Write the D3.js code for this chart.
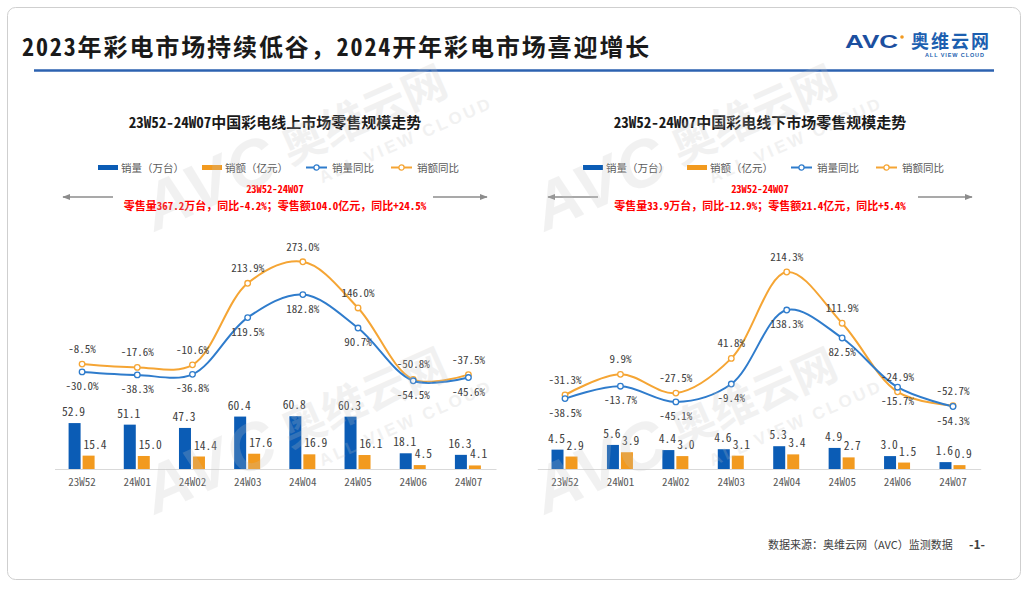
<!DOCTYPE html>
<html>
<head>
<meta charset="utf-8">
<script src="https://cdn.jsdelivr.net/npm/d3@7"></script>
<style>
  html, body { margin: 0; padding: 0; background: #ffffff; }
  svg { display: block; font-family: "Noto Sans CJK SC", "Noto Sans", sans-serif; }
  .hw { font-feature-settings: "hwid"; }
</style>
</head>
<body>
<svg id="chart" width="1027" height="593"></svg>
<script>
// ---------------- data ----------------
const categories = ["23W52", "24W01", "24W02", "24W03", "24W04", "24W05", "24W06", "24W07"];

const onlineVolume    = [52.9, 51.1, 47.3, 60.4, 60.8, 60.3, 18.1, 16.3];
const onlineAmount    = [15.4, 15.0, 14.4, 17.6, 16.9, 16.1, 4.5, 4.1];
const onlineVolumeYoY = [-30.0, -38.3, -36.8, 119.5, 182.8, 90.7, -54.5, -45.6];
const onlineAmountYoY = [-8.5, -17.6, -10.6, 213.9, 273.0, 146.0, -50.8, -37.5];

const offlineVolume    = [4.5, 5.6, 4.4, 4.6, 5.3, 4.9, 3.0, 1.6];
const offlineAmount    = [2.9, 3.9, 3.0, 3.1, 3.4, 2.7, 1.5, 0.9];
const offlineVolumeYoY = [-38.5, -13.7, -45.1, -9.4, 138.3, 82.5, -15.7, -54.3];
const offlineAmountYoY = [-31.3, 9.9, -27.5, 41.8, 214.3, 111.9, -24.9, -52.7];

const legendLabels = ["销量（万台）", "销额（亿元）", "销量同比", "销额同比"];
const mainTitle = "2023年彩电市场持续低谷，2024开年彩电市场喜迎增长";
const onlineTitle = "23W52-24W07中国彩电线上市场零售规模走势";
const offlineTitle = "23W52-24W07中国彩电线下市场零售规模走势";
const periodText = "23W52-24W07";
const onlineSummary = "零售量367.2万台，同比-4.2%；零售额104.0亿元，同比+24.5%";
const offlineSummary = "零售量33.9万台，同比-12.9%；零售额21.4亿元，同比+5.4%";
const sourceText = "数据来源：奥维云网（AVC）监测数据";
const pageText = "-1-";

// ---------------- styles ----------------
const C = {
  barBlue: "#0b5cb5",
  barOrange: "#f29a1f",
  lineBlue: "#2f7ccc",
  lineOrange: "#f5a534",
  red: "#ff0000",
  text: "#404040",
  axisText: "#595959",
  axis: "#d9d9d9",
  arrow: "#8c8c8c"
};

// mixed text: ASCII runs get half-width glyphs, CJK runs stay full width
function richText(sel, str) {
  str.split(/([\x20-\x7E]+)/).filter(s => s.length).forEach(part => {
    const t = sel.append("tspan").text(part);
    if (/^[\x20-\x7E]+$/.test(part)) t.attr("class", "hw");
  });
  return sel;
}

const svg = d3.select("#chart");
const defs = svg.append("defs");
defs.append("marker").attr("id", "arrowHead")
  .attr("viewBox", "0 0 10 10").attr("refX", 9).attr("refY", 5)
  .attr("markerWidth", 6).attr("markerHeight", 6).attr("orient", "auto-start-reverse")
  .append("path").attr("d", "M0,1 L10,5 L0,9 z").attr("fill", C.arrow);

// card
svg.append("rect").attr("x", 7.5).attr("y", 7.5).attr("width", 1013).attr("height", 572)
  .attr("rx", 8).attr("fill", "#fff").attr("stroke", "#cfcfcf").attr("stroke-width", 1);

// main title
richText(svg.append("text").attr("x", 22).attr("y", 56)
  .attr("font-size", 24).attr("font-weight", "bold").attr("fill", "#1a1a1a")
  .attr("letter-spacing", 1.9), mainTitle);

// header rule
svg.append("line").attr("x1", 34).attr("x2", 994).attr("y1", 70.5).attr("y2", 70.5)
  .attr("stroke", "#2c62b0").attr("stroke-width", 2.5);

// logo
const logo = svg.append("g");
logo.append("text").attr("transform", "translate(845,48) scale(1.45,1)")
  .attr("font-family", "Liberation Sans, Arial, sans-serif").attr("font-weight", "bold")
  .attr("font-size", 18).attr("fill", "#1c4f9f").text("AVC");
logo.append("circle").attr("cx", 902).attr("cy", 37).attr("r", 1.8).attr("fill", "#f29a1f");
logo.append("text").attr("x", 911).attr("y", 48).attr("font-size", 18).attr("font-weight", "bold")
  .attr("fill", "#1c5fb0").attr("letter-spacing", 2).text("奥维云网");
logo.append("text").attr("x", 925).attr("y", 56.5).attr("font-size", 5.5).attr("font-weight", "bold")
  .attr("fill", "#1c5fb0").attr("letter-spacing", 0.9).attr("font-family", "Liberation Sans, Arial, sans-serif")
  .text("ALL VIEW CLOUD");

// ---------------- chart builder ----------------
function drawChart(cfg) {
  const g = svg.append("g");
  const cx = cfg.cx;

  richText(g.append("text").attr("x", cx).attr("y", 128).attr("text-anchor", "middle")
    .attr("font-size", 15).attr("font-weight", "bold").attr("fill", "#1a1a1a"), cfg.title);

  // legend
  const lg = g.append("g").attr("transform", `translate(${cx - 177},167.5)`);
  const offs = [0, 104, 208, 293];
  const kinds = [
    { type: "bar", color: C.barBlue },
    { type: "bar", color: C.barOrange },
    { type: "line", color: C.lineBlue },
    { type: "line", color: C.lineOrange }
  ];
  kinds.forEach((k, i) => {
    const it = lg.append("g").attr("transform", `translate(${offs[i]},0)`);
    if (k.type === "bar") {
      it.append("rect").attr("x", 0).attr("y", -2.5).attr("width", 20).attr("height", 5).attr("fill", k.color);
      it.append("text").attr("x", 23).attr("y", 4).attr("font-size", 10.5).attr("fill", C.axisText).text(legendLabels[i]);
    } else {
      it.append("line").attr("x1", 0).attr("x2", 21).attr("y1", 0).attr("y2", 0).attr("stroke", k.color).attr("stroke-width", 2);
      it.append("circle").attr("cx", 10.5).attr("cy", 0).attr("r", 2.6).attr("fill", "#fff").attr("stroke", k.color).attr("stroke-width", 1.3);
      it.append("text").attr("x", 26).attr("y", 4).attr("font-size", 10.5).attr("fill", C.axisText).text(legendLabels[i]);
    }
  });

  // red annotation
  g.append("text").attr("x", cx).attr("y", 193).attr("text-anchor", "middle")
    .attr("font-size", 10.5).attr("font-weight", "bold").attr("fill", C.red).attr("class", "hw").text(periodText);
  richText(g.append("text").attr("x", cx).attr("y", 210).attr("text-anchor", "middle")
    .attr("font-size", 11).attr("font-weight", "bold").attr("fill", C.red), cfg.summary);

  // arrows
  g.append("line").attr("x1", cx - 162).attr("x2", cx - 212).attr("y1", 197).attr("y2", 197)
    .attr("stroke", C.arrow).attr("stroke-width", 1.3).attr("marker-end", "url(#arrowHead)");
  g.append("line").attr("x1", cx + 158).attr("x2", cx + 212).attr("y1", 197).attr("y2", 197)
    .attr("stroke", C.arrow).attr("stroke-width", 1.3).attr("marker-end", "url(#arrowHead)");

  // scales
  const x = d3.scaleBand().domain(categories).range(cfg.xRange).padding(0);
  const xs = d3.scaleBand().domain(["vol", "amt"]).range([-13.5, 12.5]).paddingInner(2 / 14);
  const yBar = d3.scaleLinear().domain(cfg.barDomain).range(cfg.barRange);
  const yLine = d3.scaleLinear().domain(cfg.lineDomain).range(cfg.lineRange);
  const xc = d => x(d) + x.bandwidth() / 2;

  // axis
  const axis = d3.axisBottom(x).tickSize(0).tickPadding(9);
  const ax = g.append("g").attr("transform", `translate(0,${yBar(0)})`).call(axis);
  ax.select(".domain").attr("stroke", C.axis).attr("stroke-width", 1);
  ax.selectAll("text").attr("font-size", 11).attr("fill", C.axisText)
    .attr("font-family", "Noto Sans CJK SC, sans-serif").attr("class", "hw");

  const rows = categories.map((c, i) => ({
    c, vol: cfg.vol[i], amt: cfg.amt[i], volY: cfg.volYoY[i], amtY: cfg.amtYoY[i]
  }));

  // bars
  g.selectAll(".bv").data(rows).enter().append("rect")
    .attr("x", d => xc(d.c) + xs("vol")).attr("width", xs.bandwidth())
    .attr("y", d => yBar(d.vol)).attr("height", d => yBar(0) - yBar(d.vol)).attr("fill", C.barBlue);
  g.selectAll(".ba").data(rows).enter().append("rect")
    .attr("x", d => xc(d.c) + xs("amt")).attr("width", xs.bandwidth())
    .attr("y", d => yBar(d.amt)).attr("height", d => yBar(0) - yBar(d.amt)).attr("fill", C.barOrange);

  // bar labels
  g.selectAll(".lv").data(rows).enter().append("text").attr("class", "hw")
    .attr("x", d => xc(d.c) + xs("vol") + xs.bandwidth() / 2 - 1).attr("y", d => yBar(d.vol) - 7)
    .attr("text-anchor", "middle").attr("font-size", 11.5).attr("fill", C.text)
    .text(d => d.vol.toFixed(1));
  g.selectAll(".la").data(rows).enter().append("text").attr("class", "hw")
    .attr("x", d => xc(d.c) + xs("amt") + 1).attr("y", d => yBar(d.amt) - 7)
    .attr("text-anchor", "start").attr("font-size", 11.5).attr("fill", C.text)
    .text(d => d.amt.toFixed(1));

  // lines
  const mkLine = key => d3.line().x(d => xc(d.c)).y(d => yLine(d[key])).curve(d3.curveCatmullRom.alpha(0.5));
  g.append("path").datum(rows).attr("d", mkLine("amtY")).attr("fill", "none")
    .attr("stroke", C.lineOrange).attr("stroke-width", 2);
  g.append("path").datum(rows).attr("d", mkLine("volY")).attr("fill", "none")
    .attr("stroke", C.lineBlue).attr("stroke-width", 2);

  ["amtY", "volY"].forEach(key => {
    const col = key === "amtY" ? C.lineOrange : C.lineBlue;
    g.selectAll(".pt" + key).data(rows).enter().append("circle")
      .attr("cx", d => xc(d.c)).attr("cy", d => yLine(d[key])).attr("r", 2.8)
      .attr("fill", "#fff").attr("stroke", col).attr("stroke-width", 1.3);
  });

  g.selectAll(".tA").data(rows).enter().append("text").attr("class", "hw")
    .attr("x", d => xc(d.c)).attr("y", d => yLine(d.amtY) - 11)
    .attr("text-anchor", "middle").attr("font-size", 11).attr("fill", C.text)
    .text(d => d.amtY.toFixed(1) + "%");
  g.selectAll(".tV").data(rows).enter().append("text").attr("class", "hw")
    .attr("x", d => xc(d.c)).attr("y", d => yLine(d.volY) + 18)
    .attr("text-anchor", "middle").attr("font-size", 11).attr("fill", C.text)
    .text(d => d.volY.toFixed(1) + "%");
}

drawChart({
  cx: 275, title: onlineTitle, summary: onlineSummary,
  xRange: [54.5, 496],
  barDomain: [0, 250], barRange: [469, 252],
  lineDomain: [-300, 300], lineRange: [470, 252],
  vol: onlineVolume, amt: onlineAmount, volYoY: onlineVolumeYoY, amtYoY: onlineAmountYoY
});
drawChart({
  cx: 760, title: offlineTitle, summary: offlineSummary,
  xRange: [537.3, 980.7],
  barDomain: [0, 50], barRange: [469, 254],
  lineDomain: [-200, 250], lineRange: [479.5, 254.1],
  vol: offlineVolume, amt: offlineAmount, volYoY: offlineVolumeYoY, amtYoY: offlineAmountYoY
});

// footer
svg.append("text").attr("x", 768).attr("y", 549).attr("font-size", 11).attr("fill", C.text).text(sourceText);
svg.append("text").attr("x", 969).attr("y", 549).attr("font-size", 12).attr("font-weight", "bold").attr("fill", C.text).text(pageText);

// watermarks
[[290, 165], [290, 448], [680, 165], [680, 448]].forEach(([tx, ty]) => {
  const w = svg.append("g").attr("transform", `translate(${tx},${ty}) rotate(-24)`)
    .attr("fill", "#c4c4c4").attr("opacity", 0.22).attr("pointer-events", "none");
  w.append("text").attr("x", -10).attr("y", 6).attr("text-anchor", "end")
    .attr("font-family", "Liberation Sans, Arial, sans-serif").attr("font-weight", "bold")
    .attr("font-style", "italic").attr("font-size", 66).attr("letter-spacing", 2).text("AVC");
  w.append("text").attr("x", 0).attr("y", 0).attr("font-size", 44).attr("font-weight", "bold").text("奥维云网");
  w.append("text").attr("x", 22).attr("y", 30).attr("font-size", 17).attr("font-weight", "bold")
    .attr("letter-spacing", 3).attr("font-family", "Liberation Sans, Arial, sans-serif").text("ALL VIEW CLOUD");
});
</script>
</body>
</html>
